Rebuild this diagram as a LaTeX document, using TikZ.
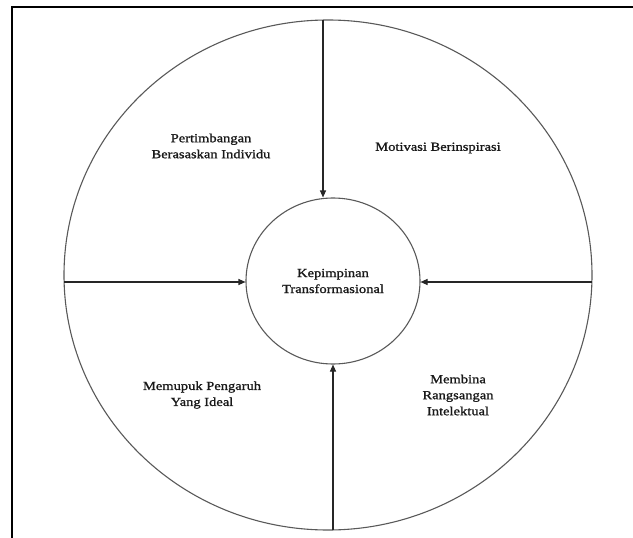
\documentclass[tikz,border=0pt]{standalone}
\usepackage{fontspec}
\setmainfont{Liberation Serif}[FakeStretch=1.18,FakeBold=1.2]
\usetikzlibrary{arrows.meta,shapes.geometric}
\begin{document}
\begin{tikzpicture}[x=1pt,y=-1pt,
  ring/.style={ellipse,draw=black!65,line width=1.1pt,inner sep=0pt},
  spoke/.style={draw=black!85,line width=1.1pt,-{Triangle[length=7pt,width=6pt]}},
  label/.style={align=center,font=\fontsize{12.3}{16}\selectfont,text=black!90}]
  \useasboundingbox (0,0) rectangle (633,538);
  % outer frame (top and left edges)
  \draw[line width=2.6pt] (12,538) -- (12,7) -- (633,7);
  % rings
  \node[ring,minimum width=528pt,minimum height=510pt] (rim) at (328,275) {};
  \node[ring,minimum width=174pt,minimum height=166pt,
        label] (core) at (333,281) {Kepimpinan\\Transformasional};
  % spoke ends on the outer ring
  \coordinate (top) at (323,20);
  \coordinate (bot) at (333,530);
  \coordinate (lft) at (64,282);
  \coordinate (rgt) at (592,282);
  \draw[spoke] (top) -- (top |- core.north);
  \draw[spoke] (bot) -- (core.south);
  \draw[spoke] (lft) -- (lft -| core.west);
  \draw[spoke] (rgt) -- (rgt -| core.east);
  % quadrant labels
  \node[label] (q1) at (211,146) {Pertimbangan\\Berasaskan Individu};
  \node[label] (q2) at (438,148) {Motivasi Berinspirasi};
  \node[label] (q3) at (202,395) {Memupuk Pengaruh\\Yang Ideal};
  \node[label] (q4) at (458,395) {Membina\\Rangsangan\\Intelektual};
\end{tikzpicture}
\end{document}
